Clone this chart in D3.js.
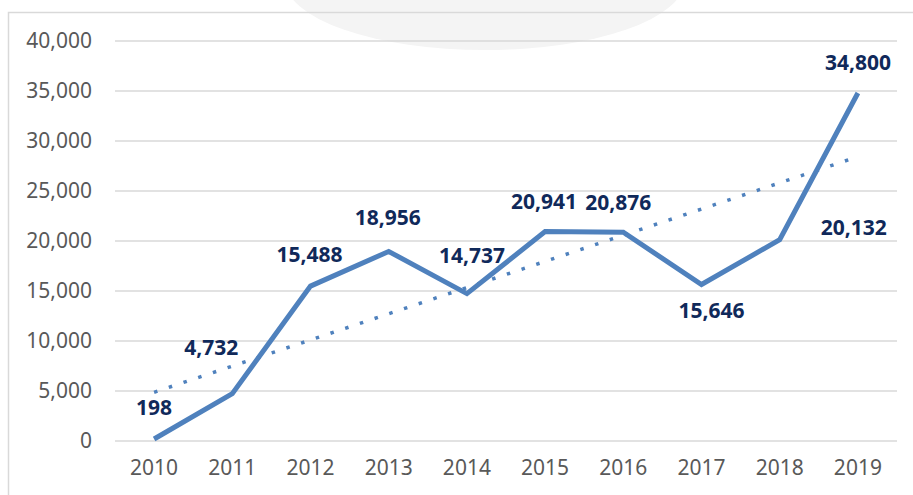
<!DOCTYPE html>
<html>
<head>
<meta charset="utf-8">
<script src="https://cdn.jsdelivr.net/npm/d3@7"></script>
<style>
  body { margin: 0; background: #fff; }
  text { font-family: "Noto Sans", "Open Sans", sans-serif; }
</style>
</head>
<body>
<div id="chart"></div>
<script>
// Data
const years = ["2010", "2011", "2012", "2013", "2014", "2015", "2016", "2017", "2018", "2019"];
const values = [198, 4732, 15488, 18956, 14737, 20941, 20876, 15646, 20132, 34800];
const yTicks = [0, 5000, 10000, 15000, 20000, 25000, 30000, 35000, 40000];

// label offsets from each point (hand placed in the original)
const labelOffsets = [[0, -31], [-21, -46], [-1, -31], [-1, -34], [5, -38], [-1, -30], [-5, -30], [10, 26], [74, -12], [0, -30]];

////////////////////////////// Setup //////////////////////////////
const width = 913, height = 495;
const margin = { top: 41, right: 16, bottom: 54, left: 115 };

const svg = d3.select("#chart").append("svg")
  .attr("width", width)
  .attr("height", height);

// faint watermark behind the chart
svg.append("ellipse")
  .attr("cx", 485).attr("cy", -20)
  .attr("rx", 200).attr("ry", 70)
  .attr("fill", "#f4f4f4");

// outer frame (only left and top show)
svg.append("path")
  .attr("d", "M8.5,495 V12.5 H913")
  .attr("fill", "none")
  .attr("stroke", "#d9d9d9")
  .attr("stroke-width", 1.5);

const x = d3.scaleBand()
  .domain(years)
  .range([margin.left, width - margin.right]);

const y = d3.scaleLinear()
  .domain([0, 40000])
  .range([height - margin.bottom, margin.top]);

const cx = d => x(d) + x.bandwidth() / 2;

////////////////////////////// Axes //////////////////////////////
svg.append("g")
  .selectAll("line")
  .data(yTicks)
  .join("line")
  .attr("x1", margin.left)
  .attr("x2", width - margin.right)
  .attr("y1", d => y(d))
  .attr("y2", d => y(d))
  .attr("stroke", "#d9d9d9")
  .attr("stroke-width", 1.5);

const yAxis = svg.append("g")
  .attr("transform", `translate(${margin.left - 23},0)`)
  .call(d3.axisLeft(y).tickValues(yTicks).tickFormat(d3.format(",")).tickSize(0).tickPadding(0));
yAxis.select(".domain").remove();
yAxis.selectAll("text")
  .attr("fill", "#595959")
  .attr("font-size", 21);

const xAxis = svg.append("g")
  .attr("transform", `translate(0,${height - margin.bottom})`)
  .call(d3.axisBottom(x).tickSize(0).tickPadding(19));
xAxis.select(".domain").remove();
xAxis.selectAll("text")
  .attr("fill", "#595959")
  .attr("font-size", 21);

////////////////////////////// Trend line //////////////////////////////
const n = values.length;
const xs = d3.range(1, n + 1);
const mx = d3.mean(xs), my = d3.mean(values);
const slope = d3.sum(xs, (v, i) => (v - mx) * (values[i] - my)) / d3.sum(xs, v => (v - mx) ** 2);
const icpt = my - slope * mx;

svg.append("line")
  .attr("x1", cx(years[0]))
  .attr("y1", y(icpt + slope * 1))
  .attr("x2", cx(years[n - 1]))
  .attr("y2", y(icpt + slope * n))
  .attr("stroke", "#4f81bd")
  .attr("stroke-width", 3.5)
  .attr("stroke-dasharray", "3.5,12");

////////////////////////////// Line //////////////////////////////
const line = d3.line()
  .x((d, i) => cx(years[i]))
  .y(d => y(d));

svg.append("path")
  .datum(values)
  .attr("d", line)
  .attr("fill", "none")
  .attr("stroke", "#4f81bd")
  .attr("stroke-width", 5)
  .attr("stroke-linejoin", "miter");

////////////////////////////// Labels //////////////////////////////
svg.append("g")
  .selectAll("text")
  .data(values)
  .join("text")
  .attr("x", (d, i) => cx(years[i]) + labelOffsets[i][0])
  .attr("y", (d, i) => y(d) + labelOffsets[i][1])
  .attr("dy", "0.35em")
  .attr("text-anchor", "middle")
  .attr("font-size", 21)
  .attr("font-weight", "bold")
  .attr("fill", "#10295a")
  .text(d => d3.format(",")(d));
</script>
</body>
</html>
